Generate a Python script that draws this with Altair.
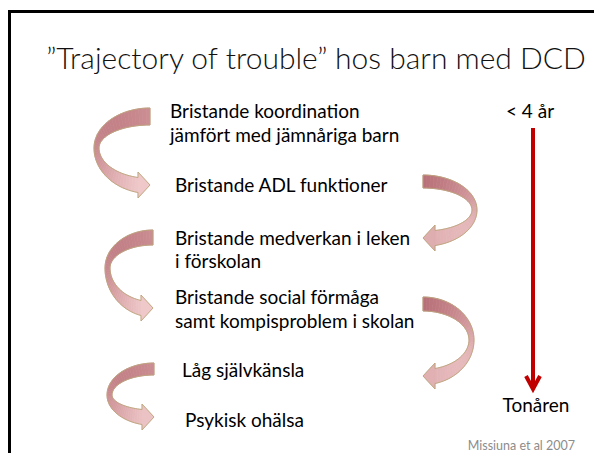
import altair as alt
import numpy as np
import pandas as pd

# ---------------- data ----------------
title_text = "\u201dTrajectory of trouble\u201d hos barn med DCD"

steps = [
    "Bristande koordination",
    "jämfört med jämnåriga barn",
    "Bristande ADL funktioner",
    "Bristande medverkan i leken",
    "i förskolan",
    "Bristande social förmåga",
    "samt kompisproblem i skolan",
    "Låg självkänsla",
    "Psykisk ohälsa",
]
step_x = [170, 170, 175, 175, 175, 175, 175, 182, 185]
step_y = [112, 136, 186, 239, 262, 298, 322, 371, 421]

time_labels = ["< 4 år", "Tonåren"]
time_x = [530, 536]
time_y = [112, 406]

source_text = "Missiuna et al 2007"

# curved arrows: side (-1 bulges left, +1 bulges right), tail x, top y,
# bulge radius, tail width, y of widest bulge, tip y
arrow_side = [-1, 1, -1, 1, -1]
arrow_x = [150, 423, 153, 423, 154]
arrow_top = [108, 175, 230, 297, 363]
arrow_r = [56, 54, 48, 51, 47]
arrow_tailw = [17, 13, 15, 14, 12]
arrow_mid = [148, 210, 268, 340, 395]
arrow_tip = [185, 238, 308, 376, 417]

# colour ramp of the arrows (dark -> light)
ramp_stops = [0.0, 0.5, 1.0]
ramp_colors = ["#b46a72", "#d49ca0", "#fbdcdc"]

# timeline arrow
time_line_x = 533
time_line_top = 128
time_line_tip = 389

# ---------------- layout ----------------
W, H = 586, 445
X0, Y0 = 8, 8  # page offset of the chart origin
xs = alt.Scale(domain=[X0, X0 + W], range=[0, W], nice=False, zero=False)
ys = alt.Scale(domain=[Y0, Y0 + H], range=[0, H], nice=False, zero=False)


def X(f="x:Q"):
    return alt.X(f, scale=xs, axis=None)


def Y(f="y:Q"):
    return alt.Y(f, scale=ys, axis=None)


def hex2rgb(h):
    return np.array([int(h[i:i + 2], 16) for i in (1, 3, 5)], dtype=float)


RAMP = [hex2rgb(c) for c in ramp_colors]


def ramp(g):
    g = float(np.clip(g, 0, 1))
    for k in range(len(ramp_stops) - 1):
        a, b = ramp_stops[k], ramp_stops[k + 1]
        if g <= b:
            f = (g - a) / (b - a)
            c = RAMP[k] * (1 - f) + RAMP[k + 1] * f
            return "#" + "".join(f"{int(round(v)):02x}" for v in c)
    return ramp_colors[-1]


def arrow_geom(R, tail_w, ym, yt, w_mid=5.0, hh=13.0, sh=7.5, hl=12.0, n=24):
    ai = R - w_mid
    t_end = np.pi - np.arcsin(hl / R)
    ti_end = np.pi - np.arcsin(hl / ai)
    b2 = (yt + sh - ym) / np.cos(np.arcsin(hl / R))
    b2i = (yt - sh - ym) / np.cos(np.arcsin(hl / ai))
    outer, inner = [], []
    for t in np.linspace(0, np.pi / 2, n):
        outer.append((R * np.sin(t), ym - ym * np.cos(t)))
        inner.append((ai * np.sin(t), ym - (ym - tail_w) * np.cos(t)))
    for t, ti in zip(np.linspace(np.pi / 2, t_end, n)[1:], np.linspace(np.pi / 2, ti_end, n)[1:]):
        outer.append((R * np.sin(t), ym - b2 * np.cos(t)))
        inner.append((ai * np.sin(ti), ym - b2i * np.cos(ti)))
    head = [(hl, yt + sh), (hl, yt + hh), (0, yt), (hl, yt - hh), (hl, yt - sh)]
    return outer, inner, head


def to_path(pts, side, close=True):
    d = "M" + " L".join(f"{side * u:.2f},{v:.2f}" for u, v in pts)
    return d + (" Z" if close else "")


slice_rows, outline_rows = [], []
for s, ax, at, r, tw, m, tp in zip(arrow_side, arrow_x, arrow_top, arrow_r,
                                   arrow_tailw, arrow_mid, arrow_tip):
    outer, inner, head = arrow_geom(r, tw, m - at, tp - at)
    allpts = outer + inner + head
    umax = max(p[0] for p in allpts)
    vmax = max(p[1] for p in allpts)

    def grad(u, v, s=s, umax=umax, vmax=vmax):
        xn = (s * u + (umax if s < 0 else 0)) / umax  # 0 at left edge of bbox
        yn = v / vmax
        return 0.3 * xn + 0.7 * yn

    for i in range(len(outer) - 1):
        poly = [outer[i], outer[i + 1], inner[i + 1], inner[i]]
        cu = np.mean([p[0] for p in poly])
        cv = np.mean([p[1] for p in poly])
        slice_rows.append({"x": ax, "y": at, "path": to_path(poly, s), "c": ramp(grad(cu, cv))})
    cu = np.mean([p[0] for p in head])
    cv = np.mean([p[1] for p in head])
    slice_rows.append({"x": ax, "y": at, "path": to_path(head, s), "c": ramp(grad(cu, cv))})
    full = outer + head[1:4] + [head[4]] + inner[::-1]
    outline_rows.append({"x": ax, "y": at, "path": to_path(full, s)})

slices = pd.DataFrame(slice_rows)
outlines = pd.DataFrame(outline_rows)

slice_layer = alt.Chart(slices).mark_point(
    filled=True, opacity=1, size=4, strokeWidth=0.7
).encode(
    x=X(), y=Y(),
    shape=alt.Shape("path:N", scale=None, legend=None),
    fill=alt.Fill("c:N", scale=None, legend=None),
    stroke=alt.Stroke("c:N", scale=None, legend=None),
)

outline_layer = alt.Chart(outlines).mark_point(
    filled=False, opacity=1, size=4, strokeWidth=0.9, color="#bba67a"
).encode(
    x=X(), y=Y(),
    shape=alt.Shape("path:N", scale=None, legend=None),
)

steps_df = pd.DataFrame({"t": steps, "x": step_x, "y": step_y})
steps_layer = alt.Chart(steps_df).mark_text(
    align="left", baseline="middle", font="Lato", fontSize=19, color="#000000"
).encode(x=X(), y=Y(), text="t:N")

time_df = pd.DataFrame({"t": time_labels, "x": time_x, "y": time_y})
time_layer = alt.Chart(time_df).mark_text(
    align="center", baseline="middle", font="Lato", fontSize=19, color="#000000"
).encode(x=X(), y=Y(), text="t:N")

title_df = pd.DataFrame({"t": [title_text], "x": [316], "y": [60]})
title_layer = alt.Chart(title_df).mark_text(
    align="center", baseline="middle", font="Lato", fontSize=30,
    fontWeight=300, color="#111111"
).encode(x=X(), y=Y(), text="t:N")

src_df = pd.DataFrame({"t": [source_text], "x": [575], "y": [446]})
src_layer = alt.Chart(src_df).mark_text(
    align="right", baseline="middle", font="Lato", fontSize=12.5, color="#8c8c8c"
).encode(x=X(), y=Y(), text="t:N")

# red timeline arrow
line_df = pd.DataFrame({"x": [time_line_x], "y": [time_line_top], "y2": [time_line_tip - 2]})
line_layer = alt.Chart(line_df).mark_rule(color="#c00000", strokeWidth=4).encode(
    x=X(), y=Y(), y2="y2:Q"
)
chev_df = pd.DataFrame({
    "x": [time_line_x - 7, time_line_x, time_line_x + 7],
    "y": [time_line_tip - 13, time_line_tip, time_line_tip - 13],
    "o": [0, 1, 2],
})
chev_layer = alt.Chart(chev_df).mark_line(
    color="#c00000", strokeWidth=4, strokeJoin="miter", strokeCap="butt"
).encode(x=X(), y=Y(), order="o:Q")

# slide frame (top and left edges)
frame_top = alt.Chart(pd.DataFrame({"x": [X0], "x2": [X0 + W], "y": [11.5]})).mark_rule(
    color="#000000", strokeWidth=3
).encode(x=X(), x2="x2:Q", y=Y())
frame_left = alt.Chart(pd.DataFrame({"x": [X0 + 1.5], "y": [10], "y2": [Y0 + H]})).mark_rule(
    color="#000000", strokeWidth=3
).encode(x=X(), y=Y(), y2="y2:Q")

chart = alt.layer(
    frame_top, frame_left, slice_layer, outline_layer, steps_layer, time_layer,
    title_layer, src_layer, line_layer, chev_layer
).properties(
    width=W, height=H, autosize=alt.AutoSizeParams(type="none"), padding=0,
    background="#ffffff"
).configure_view(stroke=None)

chart.save("out.html", embed_options={"renderer": "svg", "actions": False})
